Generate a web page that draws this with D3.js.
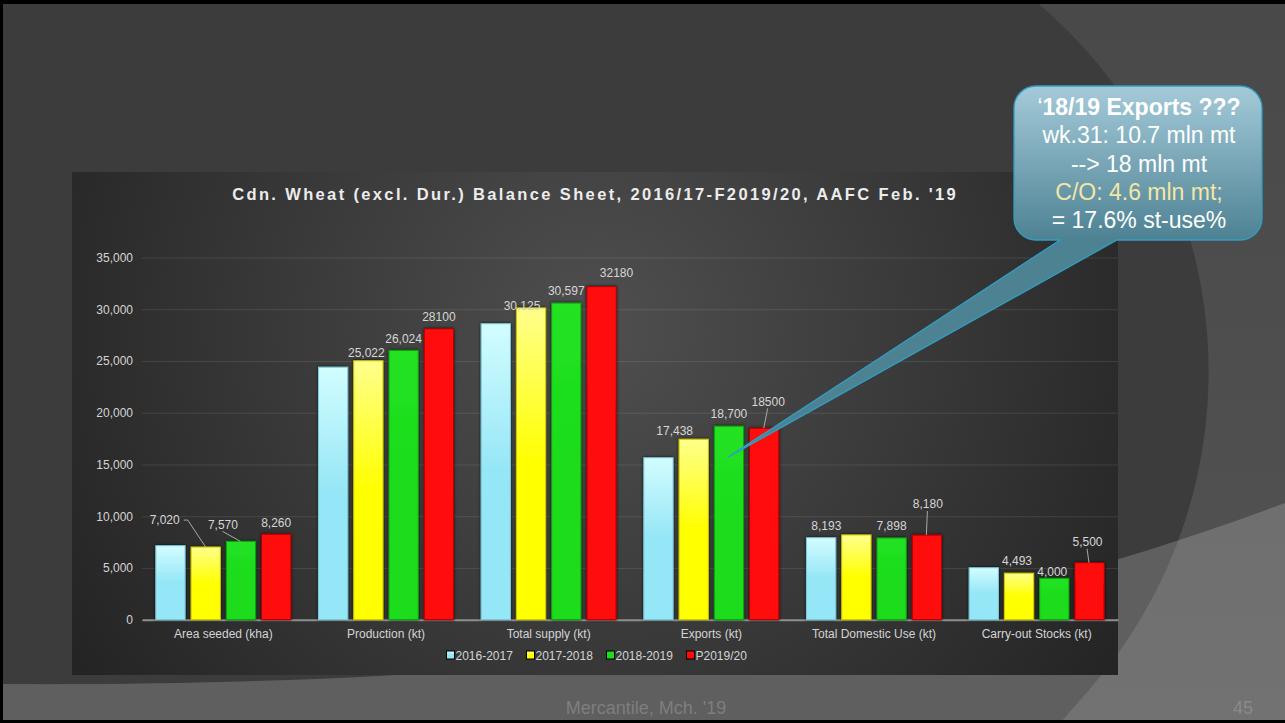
<!DOCTYPE html>
<html>
<head>
<meta charset="utf-8">
<script src="https://cdn.jsdelivr.net/npm/d3@7"></script>
<style>
  html, body { margin: 0; padding: 0; background: #3c3c3c; overflow: hidden; }
  svg { display: block; }
</style>
</head>
<body>
<svg id="slide" width="1285" height="723"></svg>
<script>
// ---- data -------------------------------------------------------------
const categories = [
  "Area seeded (kha)", "Production (kt)", "Total supply (kt)",
  "Exports (kt)", "Total Domestic Use (kt)", "Carry-out Stocks (kt)"
];
const seriesNames = ["2016-2017", "2017-2018", "2018-2019", "P2019/20"];
const values2016_17 = [7150, 24400, 28600, 15650, 7920, 5020];
const values2017_18 = [7020, 25022, 30125, 17438, 8193, 4493];
const values2018_19 = [7570, 26024, 30597, 18700, 7898, 4000];
const valuesP2019_20 = [8260, 28100, 32180, 18500, 8180, 5500];
const yTicks = [0, 5000, 10000, 15000, 20000, 25000, 30000, 35000];
const labelledSeries = ["2017-2018", "2018-2019", "P2019/20"];

const chartTitle = "Cdn. Wheat (excl. Dur.) Balance Sheet, 2016/17-F2019/20, AAFC Feb. '19";
const calloutLines = ["18/19 Exports ???", "wk.31: 10.7 mln mt", "--> 18 mln mt", "C/O: 4.6 mln mt;", "= 17.6% st-use%"];
const footerText = "Mercantile, Mch. '19";
const slideNumber = "45";

const seriesValues = [values2016_17, values2017_18, values2018_19, valuesP2019_20];

// ---- styling ----------------------------------------------------------
const FONT = "'Liberation Sans', Arial, Helvetica, sans-serif";
const seriesStyle = {
  "2016-2017": { top: "#d2fdff", bottom: "#95e6f6", stroke: "#7cc9d8" },
  "2017-2018": { top: "#ffff8c", bottom: "#ffff00", stroke: "#c9c900" },
  "2018-2019": { top: "#22e222", bottom: "#1cdc1c", stroke: "#10a010" },
  "P2019/20":  { top: "#ff1010", bottom: "#ff0808", stroke: "#b00000" }
};

const svg = d3.select("#slide");
const defs = svg.append("defs");

// ---- slide background --------------------------------------------------
svg.append("rect").attr("width", 1285).attr("height", 723).attr("fill", "#3c3c3c");

const rightGrad = defs.append("linearGradient").attr("id", "rightGrad")
  .attr("gradientUnits", "userSpaceOnUse").attr("x1", 0).attr("y1", 0).attr("x2", 0).attr("y2", 723);
rightGrad.append("stop").attr("offset", 0).attr("stop-color", "#494949");
rightGrad.append("stop").attr("offset", 1).attr("stop-color", "#535353");

// right-hand sweep bounded by a large arc
svg.append("path")
  .attr("d", "M1034,0 A483,483 0 0 1 1089,690 L1060,723 L1285,723 L1285,0 Z")
  .attr("fill", "url(#rightGrad)");

// lower swoop
svg.append("path")
  .attr("d", "M0,684 C650,688 1000,610 1285,503 L1285,723 L0,723 Z")
  .attr("fill", "#ffffff").attr("fill-opacity", 0.18);

// ---- chart panel -------------------------------------------------------
const panel = { x: 72, y: 172, w: 1046, h: 503 };
const panelGrad = defs.append("radialGradient").attr("id", "panelGrad")
  .attr("gradientUnits", "userSpaceOnUse").attr("cx", 600).attr("cy", 330).attr("r", 620);
panelGrad.append("stop").attr("offset", 0).attr("stop-color", "#4f4f4f");
panelGrad.append("stop").attr("offset", 1).attr("stop-color", "#242424");
svg.append("rect")
  .attr("x", panel.x).attr("y", panel.y).attr("width", panel.w).attr("height", panel.h)
  .attr("fill", "url(#panelGrad)");

// title, letter-spaced to span its full width
const titleWidth = 726;
const title = svg.append("text")
  .attr("x", 594).attr("y", 200)
  .attr("text-anchor", "middle")
  .attr("font-family", FONT).attr("font-size", 16.5).attr("font-weight", "bold")
  .attr("fill", "#ececec")
  .text(chartTitle);
const natural = title.node().getComputedTextLength();
const spacing = Math.max(0, (titleWidth - natural) / chartTitle.length);
title.attr("letter-spacing", spacing).attr("x", 594 + spacing / 2);

// ---- scales ------------------------------------------------------------
const plot = { left: 142, right: 1118, top: 257.5, bottom: 619.7 };
const y = d3.scaleLinear().domain([0, 35000]).range([plot.bottom, plot.top]);
const x0 = d3.scaleBand().domain(categories).range([plot.left, plot.right])
  .paddingInner(0.17).paddingOuter(0.085);
const x1 = d3.scaleBand().domain(seriesNames).range([0, x0.bandwidth()])
  .paddingInner(0.17).paddingOuter(0);

// gridlines + y labels
const yAxis = d3.axisLeft(y).tickValues(yTicks).tickFormat(d3.format(","))
  .tickSize(-(plot.right - plot.left)).tickPadding(9);
const gy = svg.append("g").attr("transform", `translate(${plot.left},0)`).call(yAxis);
gy.select(".domain").remove();
gy.selectAll(".tick line").attr("stroke", "#ffffff").attr("stroke-opacity", 0.1);
gy.selectAll(".tick text").attr("font-family", FONT).attr("font-size", 12).attr("fill", "#d4d4d4");

// category axis
const xAxis = d3.axisBottom(x0).tickSize(0).tickPadding(10);
const gx = svg.append("g").attr("transform", `translate(0,${plot.bottom})`).call(xAxis);
gx.select(".domain").attr("stroke", "#8e8e8e").attr("stroke-width", 2);
gx.selectAll(".tick text").attr("font-family", FONT).attr("font-size", 12).attr("fill", "#d4d4d4");

// ---- bars --------------------------------------------------------------
seriesNames.forEach((s, i) => {
  const g = defs.append("linearGradient").attr("id", "bar" + i)
    .attr("x1", 0).attr("y1", 0).attr("x2", 0).attr("y2", 1);
  g.append("stop").attr("offset", 0).attr("stop-color", seriesStyle[s].top);
  g.append("stop").attr("offset", 0.5).attr("stop-color", seriesStyle[s].bottom);
  g.append("stop").attr("offset", 1).attr("stop-color", seriesStyle[s].bottom);
});
const shadow = defs.append("filter").attr("id", "barShadow")
  .attr("x", "-30%").attr("y", "-10%").attr("width", "160%").attr("height", "120%");
shadow.append("feDropShadow").attr("dx", 0).attr("dy", 0).attr("stdDeviation", 1.6)
  .attr("flood-color", "#000").attr("flood-opacity", 0.85);

const barData = [];
categories.forEach((c, ci) => {
  seriesNames.forEach((s, si) => {
    barData.push({ cat: c, ci, series: s, si, value: seriesValues[si][ci] });
  });
});

svg.append("g").selectAll("rect").data(barData).join("rect")
  .attr("x", d => x0(d.cat) + x1(d.series))
  .attr("y", d => y(d.value))
  .attr("width", x1.bandwidth())
  .attr("height", d => y(0) - y(d.value))
  .attr("fill", d => `url(#bar${d.si})`)
  .attr("stroke", d => seriesStyle[d.series].stroke)
  .attr("stroke-width", 1)
  .attr("filter", "url(#barShadow)");

// ---- data labels -------------------------------------------------------
const fmtLabel = (series, v) =>
  (series === "P2019/20" && v >= 10000) ? d3.format("d")(v) : d3.format(",")(v);

// manual placement adjustments (series index - category index)
const labelShift = {
  "1-0": { dx: -41, dy: -15, leader: "side" },
  "1-1": { dx: -2, dy: 4 },
  "1-2": { dx: -9, dy: 10 },
  "1-3": { dx: -19, dy: 3 },
  "1-4": { dx: -30, dy: 3 },
  "1-5": { dx: -2, dy: -1 },
  "2-0": { dx: -18, dy: -5, leader: "below" },
  "2-5": { dx: -2, dy: 5 },
  "3-2": { dx: 15, dy: -2 },
  "3-3": { dx: 4, dy: -15, leader: "below" },
  "3-4": { dx: 1, dy: -19, leader: "below" },
  "3-5": { dx: -2, dy: -9, leader: "below" }
};

const labelData = barData.filter(d => labelledSeries.includes(d.series)).map(d => {
  const sh = labelShift[`${d.si}-${d.ci}`] || { dx: 0, dy: 0 };
  const bx = x0(d.cat) + x1(d.series) + x1.bandwidth() / 2;
  const by = y(d.value);
  return { ...d, bx, by, cx: bx + sh.dx, cy: by - 12 + sh.dy, leader: sh.leader, text: fmtLabel(d.series, d.value) };
});

const labelG = svg.append("g");
labelG.selectAll("text").data(labelData).join("text")
  .attr("x", d => d.cx).attr("y", d => d.cy + 4.3)
  .attr("text-anchor", "middle")
  .attr("font-family", FONT).attr("font-size", 12).attr("fill", "#d6d6d6")
  .text(d => d.text);

labelG.selectAll("path").data(labelData.filter(d => d.leader)).join("path")
  .attr("d", d => {
    if (d.leader === "side") {
      const w = d.text.length * 6.4;
      const sx = d.cx + w / 2 + 3;
      return `M${sx},${d.cy} L${sx + 4},${d.cy} L${d.bx},${d.by}`;
    }
    return `M${d.cx - 0.5},${d.cy + 7} L${d.bx - 0.5},${d.by}`;
  })
  .attr("fill", "none").attr("stroke", "#a8a8a8").attr("stroke-width", 1);

// ---- legend ------------------------------------------------------------
const legend = svg.append("g").attr("transform", "translate(446.5,651)");
const li = legend.selectAll("g").data(seriesNames).join("g")
  .attr("transform", (d, i) => `translate(${i * 80},0)`);
li.append("rect").attr("width", 8).attr("height", 8)
  .attr("fill", (d, i) => `url(#bar${i})`).attr("stroke", "#000").attr("stroke-width", 1);
li.append("text").attr("x", 9).attr("y", 9)
  .attr("font-family", FONT).attr("font-size", 12).attr("fill", "#d4d4d4")
  .text(d => d);

// ---- callout -----------------------------------------------------------
const exportsGreenX = x0("Exports (kt)") + x1("2018-2019") + x1.bandwidth() / 2;
const tip = { x: exportsGreenX - 1, y: y(values2018_19[3]) + 31 };
const box = { x0: 1014, y0: 86, x1: 1262, y1: 240, r: 22 };
const calloutGrad = defs.append("linearGradient").attr("id", "calloutGrad")
  .attr("gradientUnits", "userSpaceOnUse").attr("x1", 0).attr("y1", box.y0).attr("x2", 0).attr("y2", box.y1);
calloutGrad.append("stop").attr("offset", 0).attr("stop-color", "#a4cad9");
calloutGrad.append("stop").attr("offset", 1).attr("stop-color", "#4d8293");

const p = d3.path();
p.moveTo(box.x0 + box.r, box.y0);
p.lineTo(box.x1 - box.r, box.y0);
p.arcTo(box.x1, box.y0, box.x1, box.y0 + box.r, box.r);
p.lineTo(box.x1, box.y1 - box.r);
p.arcTo(box.x1, box.y1, box.x1 - box.r, box.y1, box.r);
p.lineTo(1117, box.y1);
p.lineTo(tip.x, tip.y);
p.lineTo(1060, box.y1);
p.lineTo(box.x0 + box.r, box.y1);
p.arcTo(box.x0, box.y1, box.x0, box.y1 - box.r, box.r);
p.lineTo(box.x0, box.y0 + box.r);
p.arcTo(box.x0, box.y0, box.x0 + box.r, box.y0, box.r);
p.closePath();
svg.append("path").attr("d", p.toString())
  .attr("fill", "url(#calloutGrad)")
  .attr("stroke", "#2f9fc4").attr("stroke-width", 1.3);

const ct = svg.append("text").attr("font-family", FONT).attr("font-size", 23)
  .attr("text-anchor", "middle").attr("fill", "#ffffff");
const lineColors = ["#ffffff", "#ffffff", "#ffffff", "#f4e6a6", "#ffffff"];
calloutLines.forEach((t, i) => {
  const ts = ct.append("tspan").attr("x", 1139).attr("y", 115 + i * 28.3).attr("fill", lineColors[i]);
  if (i === 0) {
    ts.append("tspan").text("\u2018");
    ts.append("tspan").attr("font-weight", "bold").text(t);
  } else {
    ts.text(t);
  }
});

// ---- footer ------------------------------------------------------------
svg.append("text").attr("x", 646).attr("y", 714).attr("text-anchor", "middle")
  .attr("font-family", FONT).attr("font-size", 18).attr("fill", "#7e7e7e").text(footerText);
svg.append("text").attr("x", 1253).attr("y", 714).attr("text-anchor", "end")
  .attr("font-family", FONT).attr("font-size", 18).attr("fill", "#8a8a8a").text(slideNumber);

// slide frame
svg.append("rect").attr("x", 0).attr("y", 0).attr("width", 1285).attr("height", 4).attr("fill", "#000");
svg.append("rect").attr("x", 0).attr("y", 0).attr("width", 3).attr("height", 723).attr("fill", "#000");
svg.append("rect").attr("x", 0).attr("y", 720).attr("width", 1285).attr("height", 3).attr("fill", "#000");
</script>
</body>
</html>
